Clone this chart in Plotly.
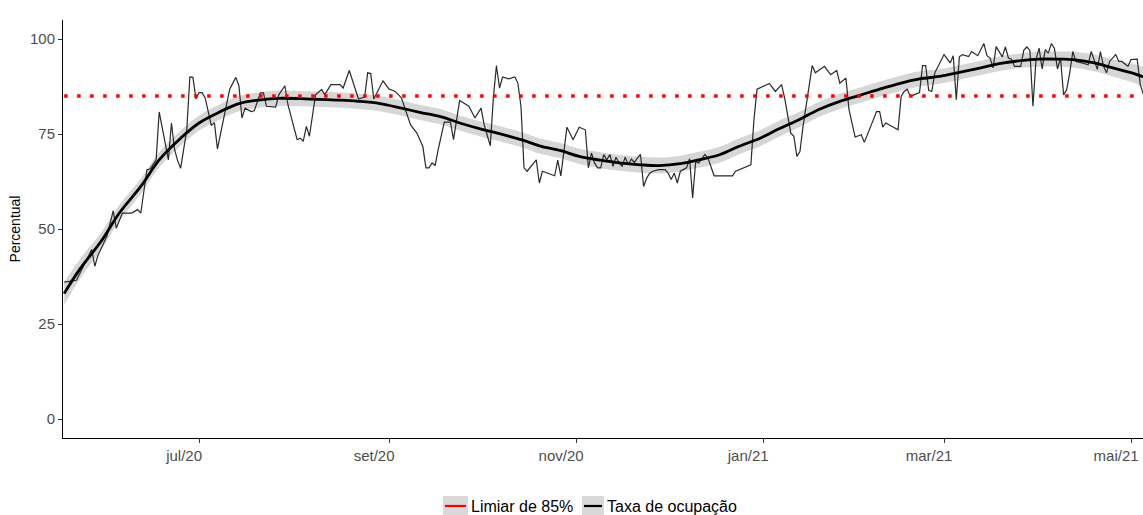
import plotly.graph_objects as go

# ---------------- data ----------------
raw_dates = [
    "2020-05-18", "2020-05-22", "2020-05-27", "2020-05-28", "2020-05-29", "2020-06-01",
    "2020-06-03", "2020-06-04", "2020-06-06", "2020-06-09", "2020-06-11", "2020-06-12",
    "2020-06-14", "2020-06-15", "2020-06-17", "2020-06-18", "2020-06-21", "2020-06-22",
    "2020-06-23", "2020-06-24", "2020-06-25", "2020-06-26", "2020-06-27", "2020-06-28",
    "2020-06-29", "2020-06-30", "2020-07-01", "2020-07-02", "2020-07-03", "2020-07-05",
    "2020-07-06", "2020-07-07", "2020-07-09", "2020-07-11", "2020-07-13", "2020-07-14",
    "2020-07-15", "2020-07-16", "2020-07-18", "2020-07-19", "2020-07-21", "2020-07-22",
    "2020-07-23", "2020-07-26", "2020-07-27", "2020-07-29", "2020-07-30", "2020-08-02",
    "2020-08-03", "2020-08-04", "2020-08-05", "2020-08-06", "2020-08-08", "2020-08-10",
    "2020-08-11", "2020-08-13", "2020-08-16", "2020-08-17", "2020-08-19", "2020-08-22",
    "2020-08-24", "2020-08-25", "2020-08-26", "2020-08-27", "2020-08-30", "2020-09-01",
    "2020-09-02", "2020-09-03", "2020-09-05", "2020-09-06", "2020-09-08", "2020-09-10",
    "2020-09-12", "2020-09-13", "2020-09-14", "2020-09-15", "2020-09-16", "2020-09-17",
    "2020-09-19", "2020-09-21", "2020-09-22", "2020-09-24", "2020-09-27", "2020-09-29",
    "2020-10-01", "2020-10-02", "2020-10-04", "2020-10-05", "2020-10-06", "2020-10-07",
    "2020-10-08", "2020-10-10", "2020-10-12", "2020-10-13", "2020-10-14", "2020-10-15",
    "2020-10-16", "2020-10-19", "2020-10-20", "2020-10-21", "2020-10-25", "2020-10-26",
    "2020-10-27", "2020-10-29", "2020-10-31", "2020-11-02", "2020-11-04", "2020-11-05",
    "2020-11-06", "2020-11-07", "2020-11-08", "2020-11-09", "2020-11-10", "2020-11-11",
    "2020-11-12", "2020-11-13", "2020-11-14", "2020-11-15", "2020-11-16", "2020-11-17",
    "2020-11-18", "2020-11-19", "2020-11-20", "2020-11-21", "2020-11-22", "2020-11-23",
    "2020-11-24", "2020-11-25", "2020-11-26", "2020-11-28", "2020-11-30", "2020-12-01",
    "2020-12-02", "2020-12-03", "2020-12-04", "2020-12-05", "2020-12-07", "2020-12-08",
    "2020-12-09", "2020-12-10", "2020-12-11", "2020-12-13", "2020-12-14", "2020-12-16",
    "2020-12-22", "2020-12-23", "2020-12-28", "2020-12-29", "2020-12-30", "2021-01-03",
    "2021-01-05", "2021-01-07", "2021-01-08", "2021-01-10", "2021-01-11", "2021-01-12",
    "2021-01-13", "2021-01-14", "2021-01-15", "2021-01-17", "2021-01-18", "2021-01-21",
    "2021-01-23", "2021-01-25", "2021-01-26", "2021-01-28", "2021-01-29", "2021-01-31",
    "2021-02-02", "2021-02-03", "2021-02-07", "2021-02-08", "2021-02-09", "2021-02-10",
    "2021-02-14", "2021-02-15", "2021-02-16", "2021-02-17", "2021-02-18", "2021-02-21",
    "2021-02-22", "2021-02-23", "2021-02-24", "2021-02-25", "2021-02-26", "2021-03-01",
    "2021-03-03", "2021-03-04", "2021-03-05", "2021-03-06", "2021-03-07", "2021-03-09",
    "2021-03-10", "2021-03-12", "2021-03-14", "2021-03-15", "2021-03-16", "2021-03-17",
    "2021-03-18", "2021-03-20", "2021-03-21", "2021-03-22", "2021-03-23", "2021-03-24",
    "2021-03-26", "2021-03-27", "2021-03-28", "2021-03-29", "2021-03-30", "2021-03-31",
    "2021-04-01", "2021-04-02", "2021-04-03", "2021-04-04", "2021-04-05", "2021-04-06",
    "2021-04-07", "2021-04-08", "2021-04-09", "2021-04-10", "2021-04-11", "2021-04-12",
    "2021-04-13", "2021-04-14", "2021-04-15", "2021-04-17", "2021-04-18", "2021-04-20",
    "2021-04-21", "2021-04-22", "2021-04-23", "2021-04-24", "2021-04-26", "2021-04-27",
    "2021-04-28", "2021-04-30", "2021-05-01", "2021-05-03", "2021-05-04", "2021-05-05",
]
raw_values = [
    36.0, 36.5, 44.6, 40.2, 43.0, 48.2,
    54.8, 50.2, 54.2, 54.2, 55.1, 54.2,
    65.6, 65.8, 68.2, 80.8, 68.2, 77.9,
    71.0, 68.0, 66.0, 71.7, 76.1, 90.0,
    89.9, 84.2, 85.9, 85.9, 84.5, 77.2,
    78.0, 71.1, 78.8, 86.8, 89.9, 87.7,
    79.2, 81.8, 80.9, 81.1, 85.8, 85.8,
    82.3, 82.1, 85.3, 87.7, 82.7, 73.5,
    73.9, 73.1, 77.0, 74.4, 85.3, 86.7,
    85.3, 88.0, 88.0, 87.1, 91.7, 84.2,
    84.7, 91.1, 90.9, 84.2, 89.0, 86.8,
    86.5, 86.2, 84.5, 82.3, 77.4, 75.3,
    71.7, 66.1, 66.1, 67.4, 66.7, 70.9,
    78.1, 78.1, 73.5, 83.8, 82.3, 79.2,
    81.8, 77.4, 71.9, 84.5, 93.0, 87.1,
    90.0, 89.5, 90.0, 88.4, 82.3, 66.1,
    65.2, 68.2, 62.1, 65.2, 64.0, 68.1,
    64.0, 76.8, 73.5, 76.8, 76.1, 66.1,
    70.0, 67.4, 66.1, 66.1, 69.6, 68.2,
    69.6, 66.5, 68.9, 67.4, 66.5, 68.9,
    66.9, 68.4, 67.5, 68.7, 69.6, 61.2,
    63.4, 64.7, 65.2, 65.6, 65.6, 64.7,
    63.0, 64.7, 62.1, 65.2, 66.1, 68.5,
    58.2, 67.8, 67.4, 69.6, 68.7, 64.0,
    64.0, 65.2, 66.9, 78.8, 86.8, 88.3,
    86.2, 88.0, 84.5, 75.3, 74.4, 69.1,
    70.4, 77.0, 82.7, 93.0, 91.1, 92.8,
    90.6, 91.7, 88.4, 89.7, 81.4, 74.2,
    74.8, 72.8, 80.9, 80.9, 76.8, 77.9,
    76.1, 84.9, 86.2, 86.8, 84.9, 85.9,
    93.0, 93.0, 86.5, 86.2, 91.1, 95.9,
    93.7, 95.6, 84.0, 95.3, 95.9, 95.4,
    96.7, 95.6, 98.8, 95.6, 95.0, 92.4,
    98.0, 95.3, 97.9, 95.0, 94.7, 92.8,
    92.8, 97.0, 97.9, 97.0, 82.3, 94.6,
    97.6, 92.1, 97.2, 96.3, 98.8, 97.6,
    92.1, 95.0, 85.3, 86.7, 91.1, 96.7,
    94.1, 93.8, 93.7, 93.2, 96.7, 92.0,
    96.7, 92.9, 91.1, 94.1, 95.9, 94.1,
    94.1, 92.8, 94.6, 94.7, 88.0, 85.5,
]

smooth_dates = [
    "2020-05-18", "2020-05-23", "2020-05-30", "2020-06-05", "2020-06-12", "2020-06-18",
    "2020-06-25", "2020-07-01", "2020-07-08", "2020-07-14", "2020-07-21", "2020-07-27",
    "2020-08-03", "2020-08-09", "2020-08-16", "2020-08-22", "2020-08-29", "2020-09-05",
    "2020-09-11", "2020-09-18", "2020-09-24", "2020-10-01", "2020-10-07", "2020-10-14",
    "2020-10-20", "2020-10-27", "2020-11-02", "2020-11-09", "2020-11-15", "2020-11-22",
    "2020-11-28", "2020-12-05", "2020-12-11", "2020-12-18", "2020-12-24", "2020-12-31",
    "2021-01-06", "2021-01-13", "2021-01-19", "2021-01-26", "2021-02-02", "2021-02-08",
    "2021-02-15", "2021-02-21", "2021-02-28", "2021-03-06", "2021-03-13", "2021-03-19",
    "2021-03-26", "2021-04-01", "2021-04-08", "2021-04-12", "2021-04-19", "2021-04-25",
    "2021-05-02", "2021-05-05",
]
smooth_values = [
    33.0, 39.3, 46.7, 54.2, 61.2, 68.2,
    73.9, 77.9, 80.9, 83.0, 84.0, 84.4,
    84.3, 84.1, 83.9, 83.6, 83.0, 81.8,
    80.7, 79.5, 77.9, 76.3, 75.1, 73.5,
    71.9, 70.6, 69.1, 68.1, 67.4, 66.9,
    66.7, 67.2, 68.2, 69.6, 71.7, 73.9,
    76.3, 78.9, 81.4, 83.6, 85.3, 86.8,
    88.4, 89.5, 90.2, 91.2, 92.4, 93.5,
    94.3, 94.7, 94.7, 94.6, 93.7, 92.4,
    90.9, 90.0,
]
smooth_halfwidth = [
    3.0, 2.6, 2.3, 2.1, 2.0, 2.0,
    2.0, 2.0, 2.0, 2.0, 2.0, 2.0,
    2.0, 2.0, 2.0, 2.0, 2.0, 2.0,
    2.0, 2.0, 2.0, 2.0, 2.0, 2.0,
    2.0, 2.0, 2.0, 2.1, 2.1, 2.1,
    2.1, 2.1, 2.1, 2.1, 2.1, 2.1,
    2.1, 2.0, 2.0, 2.0, 2.0, 2.0,
    2.0, 2.0, 1.9, 1.9, 1.9, 1.9,
    1.9, 2.0, 2.0, 2.1, 2.2, 2.3,
    2.5, 2.6,
]

threshold = 85
tick_dates = ["2020-07-01", "2020-09-01", "2020-11-01", "2021-01-01", "2021-03-01", "2021-05-01"]
tick_labels = ["jul/20", "set/20", "nov/20", "jan/21", "mar/21", "mai/21"]
y_ticks = [0, 25, 50, 75, 100]
legend_labels = ["Limiar de 85%", "Taxa de ocupação"]

# ---------------- styling ----------------
FONT = "Liberation Sans, Arial, Helvetica, sans-serif"
RIBBON = "rgb(214,214,214)"
TEXT = "#4d4d4d"

upper = [v + h for v, h in zip(smooth_values, smooth_halfwidth)]
lower = [v - h for v, h in zip(smooth_values, smooth_halfwidth)]

fig = go.Figure()

# confidence ribbon
fig.add_trace(go.Scatter(x=smooth_dates, y=lower, mode="lines",
                         line=dict(width=0, shape="spline", color=RIBBON),
                         showlegend=False, hoverinfo="skip"))
fig.add_trace(go.Scatter(x=smooth_dates, y=upper, mode="lines", fill="tonexty",
                         fillcolor=RIBBON, line=dict(width=0, shape="spline", color=RIBBON),
                         showlegend=False, hoverinfo="skip"))

# raw daily occupancy
fig.add_trace(go.Scatter(x=raw_dates, y=raw_values, mode="lines",
                         line=dict(color="#2a2a2a", width=1.2),
                         name=legend_labels[1], showlegend=False))

# smoothed trend
fig.add_trace(go.Scatter(x=smooth_dates, y=smooth_values, mode="lines",
                         line=dict(color="black", width=2.8, shape="spline"),
                         name=legend_labels[1] + " (tendência)", showlegend=False))

# threshold line
fig.add_trace(go.Scatter(x=[raw_dates[0], raw_dates[-1]], y=[threshold, threshold], mode="lines",
                         line=dict(color="#ff0000", width=3.5, dash="3.5px,9.5px"),
                         name=legend_labels[0], showlegend=False))

# ---------------- custom legend (ggplot-like keys with grey background) ----------------
def px_x(px):
    return (px - 63) / 1080.0

def px_y(py):
    return (438 - py) / 418.0

shapes = []
annotations = []
legend_items = [
    (443, 468, "#ff0000", legend_labels[0]),
    (582, 604, "black", legend_labels[1]),
]
for x0, x1, col, lab in legend_items:
    shapes.append(dict(type="rect", xref="paper", yref="paper",
                       x0=px_x(x0), x1=px_x(x1), y0=px_y(515), y1=px_y(496),
                       fillcolor="rgb(217,217,217)", line=dict(width=0), layer="below"))
    shapes.append(dict(type="line", xref="paper", yref="paper",
                       x0=px_x(x0 + 2), x1=px_x(x1 - 2), y0=px_y(506), y1=px_y(506),
                       line=dict(color=col, width=2.2)))
    annotations.append(dict(text=lab, xref="paper", yref="paper",
                            x=px_x(x1 + 1), y=px_y(506), xanchor="left", yanchor="middle",
                            showarrow=False, font=dict(family=FONT, size=16, color="black")))

fig.update_layout(
    width=1143, height=515, autosize=False,
    margin=dict(l=63, r=0, t=20, b=77),
    paper_bgcolor="white", plot_bgcolor="white",
    font=dict(family=FONT, size=15, color=TEXT),
    hovermode=False,
    showlegend=False,
    shapes=shapes,
    annotations=annotations,
    xaxis=dict(
        type="date",
        range=["2020-05-17 15:00", "2021-05-04 21:30"],
        tickmode="array", tickvals=tick_dates, ticktext=tick_labels,
        showgrid=False, zeroline=False,
        showline=True, linecolor="black", linewidth=1,
        ticks="outside", ticklen=4, tickwidth=1, tickcolor="#333333",
        tickfont=dict(family=FONT, size=15, color=TEXT),
        ticklabelshift=-15, ticklabeloverflow="allow",
    ),
    yaxis=dict(
        range=[-5, 105],
        tickmode="array", tickvals=y_ticks,
        showgrid=False, zeroline=False,
        showline=True, linecolor="black", linewidth=1,
        ticks="outside", ticklen=4, tickwidth=1, tickcolor="#333333",
        tickfont=dict(family=FONT, size=15, color=TEXT),
        title=dict(text="Percentual", font=dict(family=FONT, size=14, color="black"), standoff=6),
        automargin=False,
    ),
)

fig.write_html(
    "out.html",
    config={"displayModeBar": False},
    post_script="document.body.style.margin='0';document.body.style.overflow='hidden';",
)
